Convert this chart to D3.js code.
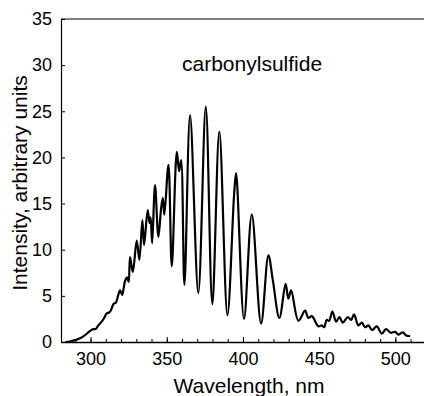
<!DOCTYPE html>
<html>
<head>
<meta charset="utf-8">
<script src="https://cdn.jsdelivr.net/npm/d3@7"></script>
<style>
  body { margin: 0; background: #fff; }
  text { font-family: "Liberation Sans", Arial, sans-serif; fill: #000; }
</style>
</head>
<body>
<svg id="chart"></svg>
<script>
// spectrum (nm, arbitrary units)
var wavelength = [283.3, 286.5, 289.8, 293.1, 296.4, 299.7, 301.8, 303.3, 305.1, 307.3,
  308.9, 310.6, 312.3, 313.5, 315, 316.7, 318.2, 319.4, 320.7, 321.7,
  322.6, 324, 325, 325.9, 327.7, 330.3, 332, 334, 335.1, 337.5,
  338.7, 339.4, 340.4, 342.3, 344.5, 346.3, 347.4, 348.4, 351.1, 353.3,
  356.6, 358.1, 359.4, 361.6, 365.3, 370.7, 375.6, 379.9, 384.5, 389.8,
  394.2, 395.5, 400.7, 405.8, 411.9, 416.7, 419.6, 423.9, 428, 429.8,
  431.6, 436.4, 440.8, 442.9, 445.2, 449.5, 451.7, 453.2, 455, 456.5,
  458.7, 461.1, 463.3, 465.5, 468.8, 471, 472.9, 475.7, 478, 480.1,
  482.3, 484.7, 487.8, 491.1, 493.9, 496.9, 499.8, 502.1, 504.9, 507.1, 509.7];
var intensity = [0, 0.05, 0.2, 0.4, 0.75, 1.2, 1.4, 1.4, 1.8, 2.2,
  2.6, 3.1, 3.2, 3.5, 4.1, 4.3, 5.1, 5.6, 5.1, 5.8,
  6.6, 7.0, 6.5, 9.2, 7.6, 11.0, 8.9, 13.2, 10.5, 14.3,
  12.9, 13.5, 10.7, 17.0, 11.4, 14.5, 15.6, 13.8, 19.2, 8.2,
  20.6, 18.5, 19.7, 6.2, 24.6, 5.3, 25.5, 4.1, 22.8, 2.9,
  16, 18.3, 2.5, 13.8, 2.0, 9.4, 6.7, 2.6, 6.3, 4.7,
  5.6, 2.3, 3.4, 2.6, 2.8, 1.7, 1.8, 1.6, 2.4, 2.3,
  3.3, 2.2, 2.7, 2.1, 2.7, 2.4, 3.0, 1.8, 2.1, 1.6,
  1.8, 1.3, 1.7, 0.9, 1.4, 1.0, 1.1, 0.8, 1.05, 0.7, 0.65];

var xTicks = [300, 350, 400, 450, 500];
var xMinor = d3.range(290, 520, 10);
var yTicks = [0, 5, 10, 15, 20, 25, 30, 35];

var data = wavelength.map(function (w, i) { return { w: w, v: intensity[i] }; });

var W = 424, H = 396;
var margin = { top: 19, right: 0, bottom: 54, left: 61 };
var width = W - margin.left - margin.right,
    height = H - margin.top - margin.bottom;

var svg = d3.select('#chart').attr('width', W).attr('height', H);
var g = svg.append('g').attr('transform', 'translate(' + margin.left + ',' + margin.top + ')');

var x = d3.scaleLinear().domain([280.6, 518.8]).range([0, width]);
var y = d3.scaleLinear().domain([0, 35]).range([height, 0]);

// minor ticks on x
g.append('g')
    .attr('transform', 'translate(0,' + height + ')')
    .call(d3.axisBottom(x).tickValues(xMinor).tickSizeInner(-3).tickSizeOuter(0).tickFormat(''))
    .call(function (a) { a.select('.domain').remove(); })
    .selectAll('line').attr('stroke', '#000');

var xAxis = g.append('g')
    .attr('transform', 'translate(0,' + height + ')')
    .call(d3.axisBottom(x).tickValues(xTicks).tickSizeInner(-5).tickSizeOuter(0).tickPadding(10));
xAxis.select('.domain').attr('stroke', '#000').attr('stroke-width', 1.5);
xAxis.selectAll('text').style('font-size', '18px').attr('dy', '0.71em');

var yAxis = g.append('g')
    .call(d3.axisLeft(y).tickValues(yTicks).tickSizeInner(-4).tickSizeOuter(0).tickPadding(9));
yAxis.select('.domain').attr('stroke', '#000').attr('stroke-width', 1.2);
yAxis.selectAll('text').style('font-size', '18px');

// top frame line
g.append('line')
    .attr('x1', 0).attr('x2', width)
    .attr('y1', 0).attr('y2', 0)
    .style('stroke', '#000')
    .style('stroke-width', 1.2);

var line = d3.line()
    .x(function (d) { return x(d.w); })
    .y(function (d) { return y(d.v); })
    .curve(d3.curveCatmullRom.alpha(0.5));

g.append('path')
    .datum(data)
    .attr('fill', 'none')
    .attr('stroke', '#000')
    .attr('stroke-width', 2.2)
    .attr('stroke-linejoin', 'round')
    .attr('d', line);

svg.append('text')
    .attr('x', 182)
    .attr('y', 71)
    .style('font-size', '21px')
    .text('carbonylsulfide');

svg.append('text')
    .attr('x', 249)
    .attr('y', 393)
    .style('text-anchor', 'middle')
    .style('font-size', '21px')
    .text('Wavelength, nm');

svg.append('text')
    .attr('transform', 'translate(27,183) rotate(-90)')
    .style('text-anchor', 'middle')
    .style('font-size', '21px')
    .text('Intensity, arbitrary units');
</script>
</body>
</html>
